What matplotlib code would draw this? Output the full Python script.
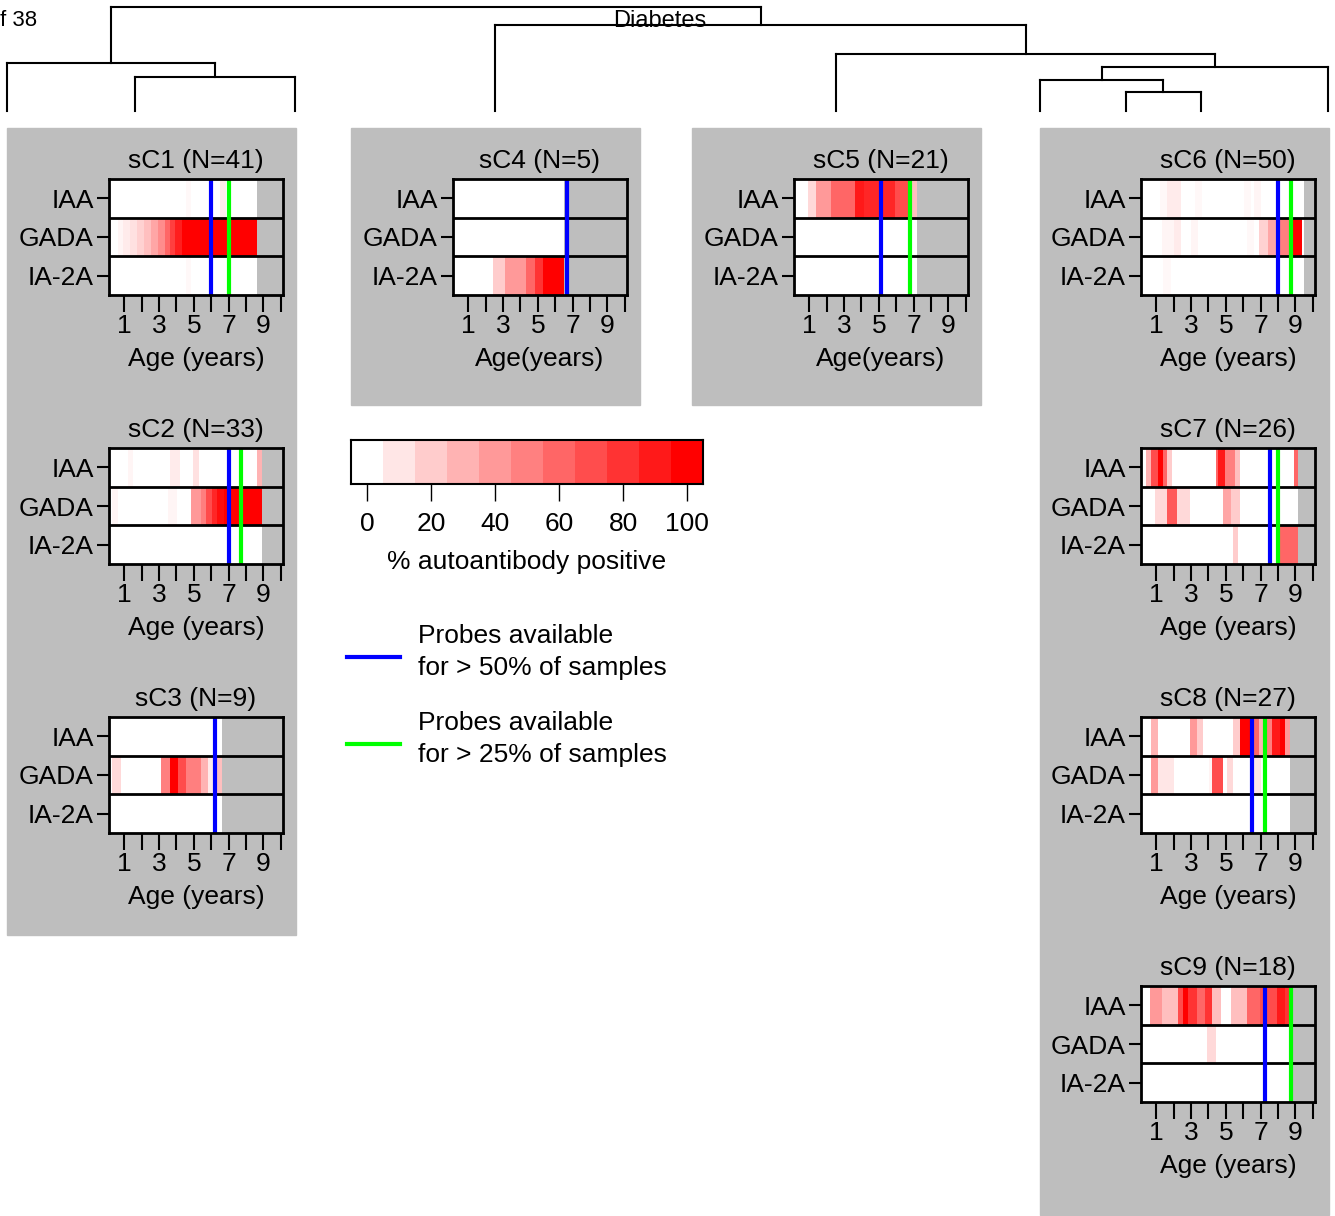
import numpy as np
import matplotlib
matplotlib.use('Agg')
import matplotlib.pyplot as plt
from matplotlib.colors import ListedColormap, BoundaryNorm, LinearSegmentedColormap, Normalize
from matplotlib.lines import Line2D
from matplotlib.patches import Rectangle

plt.rcParams['font.family'] = ['Liberation Sans', 'DejaVu Sans']

antibodies = ['IAA', 'GADA', 'IA-2A']
clusters = ['sC1', 'sC2', 'sC3', 'sC4', 'sC5', 'sC6', 'sC7', 'sC8', 'sC9']
cluster_n = [41, 33, 9, 5, 21, 50, 26, 27, 18]
data_end = [8.6, 8.9, 6.6, 6.5, 7.15, 9.45, 9.15, 8.7, 8.8]
probe50 = [6.0, 7.0, 6.2, 6.7, 5.1, 8.0, 7.55, 6.5, 7.25]
probe25 = [7.0, 7.7, None, None, 6.8, 8.75, 8.0, 7.25, 8.75]

# segments (start age, end age, % positive) for IAA, GADA, IA-2A
seg_sC1 = [
    [(4.6, 4.8, 3), (6.5, 6.8, 8)],
    [(0.6, 0.9, 4), (0.9, 1.3, 8), (1.3, 1.7, 12), (1.7, 2.1, 18), (2.1, 2.5, 25),
     (2.5, 2.9, 35), (2.9, 3.3, 45), (3.3, 3.6, 60), (3.6, 3.9, 75), (3.9, 4.3, 88),
     (4.3, 8.6, 100)],
    [(4.6, 4.8, 3)],
]
seg_sC2 = [
    [(1.2, 1.5, 4), (3.6, 4.2, 8), (4.9, 5.3, 12), (8.6, 8.9, 30)],
    [(0.35, 0.6, 4), (3.5, 4.0, 4), (4.85, 5.4, 40), (5.4, 5.7, 50), (5.7, 6.0, 70),
     (6.0, 6.3, 85), (6.3, 6.7, 95), (6.7, 8.9, 100)],
    [],
]
seg_sC3 = [
    [],
    [(0.35, 0.8, 15), (3.1, 3.6, 50), (3.6, 4.1, 100), (4.1, 4.6, 70), (4.6, 5.4, 50),
     (5.4, 5.8, 30), (5.8, 6.2, 8), (6.2, 6.6, 25)],
    [],
]
seg_sC4 = [
    [],
    [],
    [(2.4, 3.1, 20), (3.1, 4.3, 40), (4.3, 4.8, 60), (4.8, 5.3, 80), (5.3, 6.5, 100)],
]
seg_sC5 = [
    [(0.9, 1.4, 15), (1.4, 2.2, 40), (2.2, 3.6, 60), (3.6, 4.15, 90), (4.15, 5.1, 85),
     (5.1, 5.9, 85), (5.9, 6.7, 70), (6.7, 7.15, 25)],
    [],
    [],
]
seg_sC6 = [
    [(1.2, 1.6, 3), (1.6, 2.4, 8), (3.2, 3.6, 3), (6.0, 6.4, 3), (6.6, 7.0, 4)],
    [(1.3, 2.0, 4), (2.0, 2.4, 8), (3.0, 3.4, 4), (6.2, 6.6, 3), (6.9, 7.4, 18),
     (7.4, 8.1, 35), (8.1, 8.8, 50), (8.8, 9.35, 100)],
    [(1.4, 1.8, 3)],
]
seg_sC7 = [
    [(0.4, 0.7, 30), (0.7, 1.1, 70), (1.1, 1.4, 100), (1.4, 1.6, 60), (1.6, 1.9, 20),
     (4.4, 4.5, 60), (4.5, 4.9, 90), (4.9, 5.5, 50), (5.5, 5.8, 25), (8.9, 9.1, 60)],
    [(0.9, 1.6, 15), (1.6, 2.15, 65), (2.15, 2.9, 15), (4.85, 5.3, 35), (5.3, 5.8, 20)],
    [(5.4, 5.65, 20), (8.1, 9.15, 60)],
]
seg_sC8 = [
    [(0.65, 1.1, 30), (2.9, 3.3, 40), (3.3, 3.65, 20), (5.4, 5.8, 20), (5.8, 6.5, 100),
     (6.5, 6.9, 60), (6.9, 7.3, 30), (7.3, 7.6, 50), (7.6, 8.1, 90), (8.1, 8.4, 100),
     (8.4, 8.7, 40)],
    [(0.65, 1.1, 40), (1.1, 2.0, 10), (4.0, 4.2, 5), (4.2, 4.85, 70), (5.1, 5.4, 15),
     (6.6, 7.0, 10)],
    [],
]
seg_sC9 = [
    [(0.6, 1.3, 40), (1.3, 2.25, 25), (2.25, 2.5, 70), (2.5, 2.8, 100), (2.8, 3.3, 80),
     (3.3, 3.75, 60), (3.75, 4.2, 80), (4.2, 4.7, 25), (5.3, 6.2, 25), (6.2, 6.95, 60),
     (6.95, 7.9, 70), (7.9, 8.45, 90), (8.45, 8.8, 80)],
    [(3.9, 4.4, 15)],
    [],
]
segments = [seg_sC1, seg_sC2, seg_sC3, seg_sC4, seg_sC5, seg_sC6, seg_sC7, seg_sC8, seg_sC9]

cbar_values = [0, 10, 20, 30, 40, 50, 60, 70, 80, 90, 100]
cbar_ticks = [0, 20, 40, 60, 80, 100]

W, H = 1335, 1216
fig = plt.figure(figsize=(W / 100, H / 100), dpi=100)
GREY = '#bebebe'

colors = [(1, 1 - v / 100, 1 - v / 100) for v in cbar_values]
key_cmap = ListedColormap(colors)
key_norm = BoundaryNorm([v - 5 for v in cbar_values] + [105], key_cmap.N)
heat_cmap = LinearSegmentedColormap.from_list('wr', ['white', 'red'])
heat_cmap.set_bad(GREY)


def fx(px):
    return px / W


def fy(py):
    return 1 - py / H


# grey panel backgrounds
for x0, y0, x1, y1 in [(7, 128, 296, 935), (351, 128, 640, 405), (692, 128, 981, 405),
                       (1040, 128, 1329, 1215)]:
    fig.patches.append(Rectangle((fx(x0), fy(y1)), fx(x1 - x0), (y1 - y0) / H,
                                 transform=fig.transFigure, color=GREY, zorder=-10))

# dendrogram
dendro = [
    ((111, 7), (761, 7)), ((111, 7), (111, 63)), ((761, 7), (761, 25)),
    ((7, 63), (215, 63)), ((7, 63), (7, 111)), ((215, 63), (215, 77)),
    ((135, 77), (295, 77)), ((135, 77), (135, 111)), ((295, 77), (295, 111)),
    ((495, 25), (1026, 25)), ((495, 25), (495, 111)), ((1026, 25), (1026, 54)),
    ((836, 54), (1215, 54)), ((836, 54), (836, 111)), ((1215, 54), (1215, 67)),
    ((1102, 67), (1328, 67)), ((1328, 67), (1328, 111)), ((1102, 67), (1102, 80)),
    ((1040, 80), (1163, 80)), ((1040, 80), (1040, 111)), ((1163, 80), (1163, 92)),
    ((1126, 92), (1201, 92)), ((1126, 92), (1126, 111)), ((1201, 92), (1201, 111)),
]
for (xa, ya), (xb, yb) in dendro:
    fig.add_artist(Line2D([fx(xa), fx(xb)], [fy(ya), fy(yb)], color='black', lw=1.5))
fig.text(fx(660), fy(21), 'Diabetes', ha='center', va='center', fontsize=17)
fig.text(0, fy(20), 'f 38', ha='left', va='center', fontsize=16)

# heatmap panel positions (left px, top px)
panel_pos = [(109, 179), (109, 448), (109, 717), (453, 179), (794, 179),
             (1141, 179), (1141, 448), (1141, 717), (1141, 986)]
xlabels = ['Age (years)'] * 3 + ['Age(years)'] * 2 + ['Age (years)'] * 4
edges = np.arange(0.125, 10.126, 0.05)
centers = (edges[:-1] + edges[1:]) / 2
FS = 19

for i, name in enumerate(clusters):
    px, py = panel_pos[i]
    ax = fig.add_axes([fx(px), fy(py + 116), fx(174), 116 / H])
    grid = np.full((3, len(centers)), np.nan)
    grid[:, centers < data_end[i]] = 0
    for r, segs in enumerate(segments[i]):
        for a, b, v in segs:
            grid[r, (centers >= a) & (centers < b)] = v
    ax.pcolormesh(edges, [0, 1, 2, 3], grid, cmap=heat_cmap, norm=Normalize(0, 100))
    ax.set_ylim(3, 0)
    ax.set_xlim(edges[0], edges[-1])
    ax.axhline(1, color='black', lw=2)
    ax.axhline(2, color='black', lw=2)
    ax.axvline(probe50[i], color='#0000ff', lw=3)
    if probe25[i] is not None:
        ax.axvline(probe25[i], color='#00ff00', lw=3)
    for s in ax.spines.values():
        s.set_linewidth(2)
    ax.set_yticks([0.5, 1.5, 2.5])
    ax.set_yticklabels(antibodies, fontsize=FS)
    ax.set_xticks(range(1, 11))
    ax.set_xticklabels([str(t) if t % 2 else '' for t in range(1, 11)], fontsize=FS)
    ax.tick_params(axis='x', length=12, width=1.5, pad=2)
    ax.tick_params(axis='y', length=9, width=1.5, pad=2)
    ax.set_xlabel(xlabels[i], fontsize=FS, labelpad=6)
    ax.set_title(f'{name} (N={cluster_n[i]})', fontsize=FS, pad=8)

# colour key
cax = fig.add_axes([fx(351), fy(484), fx(352), 44 / H])
cax.pcolormesh([v - 5 for v in cbar_values] + [105], [0, 1],
               np.array([cbar_values]), cmap=key_cmap, norm=key_norm)
cax.set_xlim(-5, 105)
cax.set_yticks([])
cax.set_xticks(cbar_ticks)
cax.tick_params(axis='x', length=12, width=1, labelsize=FS, pad=8)
for s in cax.spines.values():
    s.set_linewidth(1.5)
fig.text(fx(527), fy(562), '% autoantibody positive', ha='center', va='center', fontsize=FS)

# legend
for yl, col, txt in [(657, '#0000ff', 'for > 50% of samples'), (744, '#00ff00', 'for > 25% of samples')]:
    fig.add_artist(Line2D([fx(347), fx(400)], [fy(yl), fy(yl)], color=col, lw=3))
    fig.text(fx(418), fy(yl - 21), 'Probes available', ha='left', va='center', fontsize=FS)
    fig.text(fx(418), fy(yl + 11), txt, ha='left', va='center', fontsize=FS)

fig.savefig('out.png', dpi=100)
